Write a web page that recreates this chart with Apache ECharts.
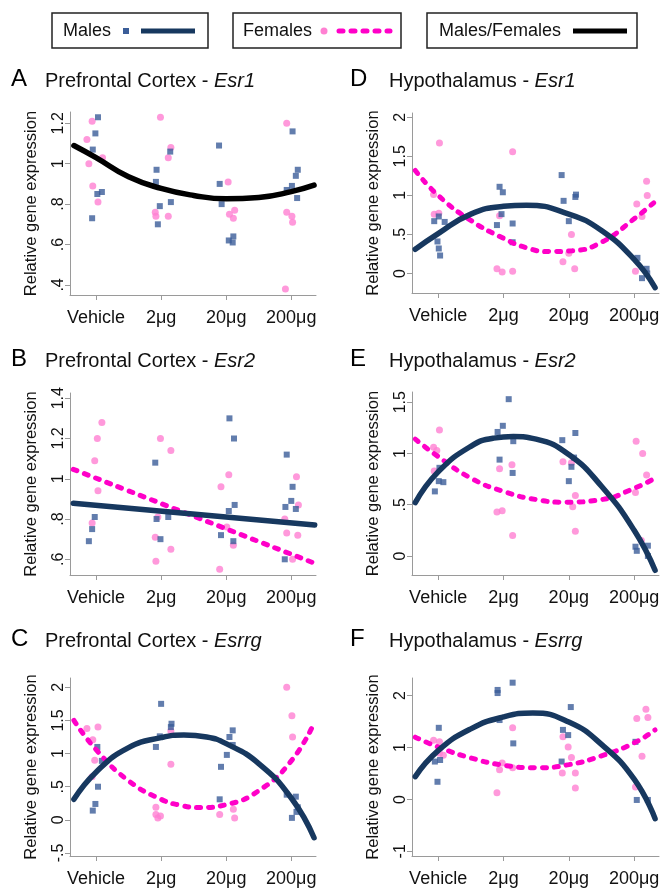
<!DOCTYPE html>
<html>
<head>
<meta charset="utf-8">
<script src="https://cdn.jsdelivr.net/npm/echarts@6/dist/echarts.min.js"></script>
<style>
  html, body { margin: 0; padding: 0; background: #fff; }
  #chart { width: 668px; height: 888px; }
</style>
</head>
<body>
<div id="chart"></div>
<script>
// dose groups on the x axis
const doseTicks = [1, 2, 3, 4];
const doseLabels = ['Vehicle', '2μg', '20μg', '200μg'];

// y tick values per panel
const aTicks = [0.4, 0.6, 0.8, 1, 1.2];
const bTicks = [0.6, 0.8, 1, 1.2, 1.4];
const cTicks = [-0.5, 0, 0.5, 1, 1.5, 2];
const dTicks = [0, 0.5, 1, 1.5, 2];
const eTicks = [0, 0.5, 1, 1.5];
const fTicks = [-1, 0, 1, 2];

// A  Prefrontal Cortex - Esr1
const aMales = [[1.03,1.23],[0.99,1.15],[0.95,1.07],[1.09,0.86],[1.02,0.85],[0.94,0.73],[1.93,0.97],[1.92,0.91],[1.98,0.79],[2.15,0.81],[2.14,1.06],[1.95,0.70],[2.89,1.09],[2.90,0.90],[2.93,0.80],[3.04,0.62],[3.10,0.61],[3.11,0.64],[4.02,1.16],[4.10,0.97],[4.07,0.94],[4.01,0.89],[3.93,0.87],[4.09,0.83]];
const aFemales = [[0.86,1.12],[0.94,1.21],[0.89,1.00],[1.10,1.03],[0.95,0.89],[1.03,0.81],[1.99,1.23],[2.15,1.08],[2.11,1.03],[1.91,0.76],[1.92,0.74],[2.11,0.74],[3.03,0.91],[3.05,0.75],[3.11,0.73],[3.13,0.77],[3.93,1.20],[3.93,0.76],[4.01,0.74],[4.02,0.71],[3.91,0.38]];
const aFitAll = [[0.66,1.09],[1,1.03],[1.5,0.935],[2,0.878],[2.5,0.843],[3,0.826],[3.5,0.833],[4,0.862],[4.35,0.894]];

// B  Prefrontal Cortex - Esr2
const bMales = [[0.98,0.81],[0.94,0.75],[0.89,0.69],[1.91,1.08],[1.93,0.80],[1.99,0.70],[2.11,0.81],[3.05,1.30],[3.12,1.20],[3.13,0.87],[3.04,0.84],[2.92,0.72],[3.11,0.69],[3.93,1.12],[4.02,0.96],[4.00,0.89],[3.91,0.86],[4.07,0.85],[3.90,0.60]];
const bFemales = [[1.09,1.28],[1.02,1.20],[0.98,1.09],[1.03,0.94],[0.94,0.78],[1.99,1.20],[2.15,1.14],[1.95,0.81],[1.91,0.71],[2.15,0.65],[1.92,0.59],[2.92,0.96],[3.04,1.02],[3.01,0.76],[3.11,0.67],[2.90,0.55],[4.08,1.01],[4.11,0.87],[4.10,0.72],[3.93,0.73],[3.90,0.80],[4.02,0.60]];
const bFitMales = [[0.65,0.878],[4.36,0.770]];
const bFitFemales = [[0.65,1.047],[4.36,0.58]];

// C  Prefrontal Cortex - Esrrg
const cMales = [[1.02,1.10],[1.09,0.89],[1.03,0.50],[0.99,0.24],[0.95,0.14],[2.00,1.75],[2.16,1.45],[2.15,1.40],[1.98,1.26],[1.92,1.10],[3.10,1.35],[3.05,1.25],[3.10,1.13],[3.01,0.98],[2.92,0.80],[2.90,0.31],[3.93,0.38],[4.07,0.35],[4.10,0.19],[4.08,0.12],[4.01,0.03]];
const cFemales = [[0.86,1.38],[0.95,1.21],[1.03,1.40],[0.98,0.90],[0.94,0.65],[2.15,1.34],[2.15,0.84],[1.92,0.19],[1.92,0.08],[1.95,0.03],[1.99,0.06],[2.90,0.08],[3.11,0.16],[3.13,0.03],[3.93,2.00],[4.01,1.57],[4.02,1.25]];
const cFitMales = [[0.66,0.31],[1,0.72],[1.5,1.09],[2,1.24],[2.35,1.28],[2.7,1.25],[3,1.15],[3.5,0.85],[4,0.33],[4.35,-0.27]];
const cFitFemales = [[0.66,1.50],[1,1.06],[1.5,0.59],[2,0.31],[2.3,0.22],[2.6,0.185],[3,0.23],[3.5,0.44],[4,0.89],[4.35,1.46]];

// D  Hypothalamus - Esr1
const dMales = [[0.94,0.67],[1.01,0.73],[1.10,0.66],[0.99,0.41],[1.01,0.32],[1.03,0.23],[1.94,1.11],[1.99,1.04],[1.97,0.76],[1.90,0.62],[2.14,0.64],[2.14,0.40],[2.89,1.26],[2.92,0.93],[3.10,0.98],[3.11,1.01],[3.00,0.67],[4.05,0.20],[4.12,-0.06],[4.19,0.06],[4.20,0.00]];
const dFemales = [[1.02,1.67],[0.93,1.01],[0.94,0.76],[1.01,0.77],[2.14,1.56],[1.94,0.74],[1.90,0.06],[1.98,0.02],[2.14,0.03],[2.91,0.15],[3.04,0.50],[3.09,0.06],[3.00,0.26],[4.04,0.89],[4.19,1.18],[4.20,1.00],[4.12,0.73],[4.02,0.03]];
const dFitMales = [[0.65,0.31],[1,0.51],[1.5,0.76],[2,0.86],[2.35,0.875],[3,0.76],[3.5,0.55],[4,0.18],[4.32,-0.18]];
const dFitFemales = [[0.65,1.32],[1,1.00],[1.5,0.68],[2,0.45],[2.35,0.33],[2.7,0.28],[3.05,0.29],[3.5,0.40],[4,0.70],[4.32,0.92]];

// E  Hypothalamus - Esr2
const eMales = [[1.02,0.86],[1.01,0.73],[1.08,0.72],[0.95,0.63],[2.08,1.53],[1.99,1.27],[1.91,1.21],[2.15,1.12],[1.94,0.94],[2.14,0.81],[2.90,1.13],[3.10,1.20],[3.08,0.96],[3.04,0.87],[3.00,0.73],[4.02,0.09],[4.04,0.05],[4.21,0.00],[4.21,0.10]];
const eFemales = [[1.02,1.23],[0.93,1.06],[0.98,1.03],[0.94,0.83],[1.94,0.85],[2.13,0.89],[1.90,0.43],[1.98,0.44],[2.14,0.20],[2.91,0.92],[3.04,0.91],[3.10,0.59],[3.06,0.48],[3.10,0.24],[4.03,1.12],[4.13,1.00],[4.19,0.79],[4.02,0.62],[4.11,0.15]];
const eFitMales = [[0.65,0.52],[1,0.82],[1.5,1.07],[1.85,1.15],[2.15,1.165],[2.5,1.14],[3,0.99],[3.5,0.68],[4,0.25],[4.32,-0.14]];
const eFitFemales = [[0.65,1.14],[1,0.97],[1.5,0.76],[2,0.63],[2.5,0.55],[2.95,0.525],[3.5,0.55],[4,0.66],[4.32,0.76]];

// F  Hypothalamus - Esrrg
const fMales = [[1.01,1.38],[0.95,0.73],[1.03,0.76],[0.99,0.34],[2.14,2.25],[1.91,2.11],[1.91,2.05],[1.94,1.53],[2.15,1.08],[3.03,1.78],[2.91,1.34],[2.99,1.24],[2.89,0.73],[4.02,1.11],[4.04,-0.01],[4.21,-0.01]];
const fFemales = [[0.93,1.14],[1.02,1.11],[1.02,0.89],[1.08,0.85],[2.14,1.38],[1.98,0.70],[1.94,0.57],[1.90,0.13],[2.14,0.61],[2.91,1.21],[2.99,1.01],[3.04,0.81],[3.10,0.51],[2.90,0.51],[3.10,0.22],[4.18,1.74],[4.21,1.58],[4.04,1.56],[4.12,0.83],[4.02,0.24]];
const fFitMales = [[0.65,0.44],[1,0.94],[1.5,1.36],[2,1.59],[2.45,1.665],[3,1.49],[3.5,1.06],[4,0.39],[4.32,-0.37]];
const fFitFemales = [[0.65,1.20],[1,1.01],[1.5,0.80],[2,0.66],[2.5,0.61],[3,0.67],[3.5,0.84],[4,1.09],[4.32,1.34]];

const FONT = 'Liberation Sans, Arial, Helvetica, sans-serif';
const MALE_DOT = '#3b5d98';
const MALE_LINE = '#17385f';
const FEMALE_DOT = '#ff80d2';
const FEMALE_LINE = '#ff00c8';
const AXIS_GRAY = '#9a9a9a';

const panels = [
  { letter: 'A', region: 'Prefrontal Cortex - ', gene: 'Esr1', grid: { left: 70, top: 112, width: 246, height: 183 }, yMin: 0.35, yMax: 1.256, ticks: aTicks, males: aMales, females: aFemales, fitAll: aFitAll, titleY: 80, lx: 11, tx: 45 },
  { letter: 'B', region: 'Prefrontal Cortex - ', gene: 'Esr2', grid: { left: 70, top: 393, width: 246, height: 182 }, yMin: 0.522, yMax: 1.426, ticks: bTicks, males: bMales, females: bFemales, fitM: bFitMales, fitF: bFitFemales, titleY: 360, lx: 11, tx: 45 },
  { letter: 'C', region: 'Prefrontal Cortex - ', gene: 'Esrrg', grid: { left: 70, top: 678, width: 246, height: 180 }, yMin: -0.545, yMax: 2.14, ticks: cTicks, males: cMales, females: cFemales, fitM: cFitMales, fitF: cFitFemales, titleY: 640, lx: 11, tx: 45 },
  { letter: 'D', region: 'Hypothalamus - ', gene: 'Esr1', grid: { left: 412, top: 113, width: 247, height: 180 }, yMin: -0.25, yMax: 2.055, ticks: dTicks, males: dMales, females: dFemales, fitM: dFitMales, fitF: dFitFemales, titleY: 80, lx: 350, tx: 389 },
  { letter: 'E', region: 'Hypothalamus - ', gene: 'Esr2', grid: { left: 412, top: 392, width: 247, height: 183 }, yMin: -0.186, yMax: 1.60, ticks: eTicks, males: eMales, females: eFemales, fitM: eFitMales, fitF: eFitFemales, titleY: 360, lx: 350, tx: 389 },
  { letter: 'F', region: 'Hypothalamus - ', gene: 'Esrrg', grid: { left: 412, top: 678, width: 247, height: 180 }, yMin: -1.09, yMax: 2.34, ticks: fTicks, males: fMales, females: fFemales, fitM: fFitMales, fitF: fFitFemales, titleY: 640, lx: 350, tx: 389 }
];

function yLabel(v) {
  return String(v).replace('0.', '.');
}

const grids = [], xAxes = [], yAxes = [], series = [], graphics = [];

panels.forEach((p, i) => {
  grids.push(p.grid);
  xAxes.push({
    type: 'value', gridIndex: i, min: 0.6, max: 4.38,
    axisLine: { onZero: false, lineStyle: { color: AXIS_GRAY, width: 1 } },
    axisTick: { customValues: doseTicks, length: 5, lineStyle: { color: AXIS_GRAY } },
    axisLabel: { customValues: doseTicks, margin: 14, color: '#111', fontSize: 18, fontFamily: FONT,
      formatter: v => doseLabels[doseTicks.indexOf(v)] },
    splitLine: { show: false }
  });
  yAxes.push({
    type: 'value', gridIndex: i, min: p.yMin, max: p.yMax,
    name: 'Relative gene expression', nameLocation: 'middle', nameGap: 30,
    nameTextStyle: { color: '#111', fontSize: 16.5, fontFamily: FONT },
    axisLine: { show: true, lineStyle: { color: AXIS_GRAY, width: 1 } },
    axisTick: { show: true, customValues: p.ticks, length: 5, lineStyle: { color: AXIS_GRAY } },
    axisLabel: { customValues: p.ticks, rotate: 90, margin: 3, color: '#111', fontSize: 16, fontFamily: FONT,
      formatter: yLabel },
    splitLine: { show: false }
  });

  series.push({
    type: 'scatter', xAxisIndex: i, yAxisIndex: i, data: p.females, z: 2,
    symbol: 'circle', symbolSize: 7, itemStyle: { color: FEMALE_DOT }
  });
  series.push({
    type: 'scatter', xAxisIndex: i, yAxisIndex: i, data: p.males, z: 2,
    symbol: 'rect', symbolSize: 6, itemStyle: { color: MALE_DOT }
  });
  if (p.fitAll) {
    series.push({
      type: 'line', xAxisIndex: i, yAxisIndex: i, data: p.fitAll, z: 3, smooth: 0.5,
      showSymbol: false, lineStyle: { color: '#000', width: 5.5, cap: 'round' }
    });
  } else {
    series.push({
      type: 'line', xAxisIndex: i, yAxisIndex: i, data: p.fitF, z: 3, smooth: 0.5,
      showSymbol: false, lineStyle: { color: FEMALE_LINE, width: 5, type: [4, 8], cap: 'round' }
    });
    series.push({
      type: 'line', xAxisIndex: i, yAxisIndex: i, data: p.fitM, z: 4, smooth: 0.5,
      showSymbol: false, lineStyle: { color: MALE_LINE, width: 5.5, cap: 'round' }
    });
  }

  graphics.push({
    type: 'text', x: p.lx, y: p.titleY - 1,
    style: { text: p.letter, font: '24px ' + FONT, fill: '#000', verticalAlign: 'middle' }
  });
  graphics.push({
    type: 'text', x: p.tx, y: p.titleY + 1,
    style: {
      text: '{t|' + p.region + '}{i|' + p.gene + '}', verticalAlign: 'middle', fill: '#111',
      rich: {
        t: { fontSize: 20, fontFamily: FONT, fill: '#111' },
        i: { fontSize: 20, fontFamily: FONT, fontStyle: 'italic', fill: '#111' }
      }
    }
  });
});

// legend boxes
const legendY = 31;
[[52, 156], [233, 168], [427, 210]].forEach(b => {
  graphics.push({ type: 'rect', shape: { x: b[0], y: 13, width: b[1], height: 35 },
    style: { fill: '#fff', stroke: '#222', lineWidth: 1.5 } });
});
graphics.push({ type: 'text', x: 63, y: legendY, style: { text: 'Males', font: '18px ' + FONT, fill: '#111', verticalAlign: 'middle' } });
graphics.push({ type: 'rect', shape: { x: 123, y: legendY - 3, width: 6, height: 6 }, style: { fill: MALE_DOT } });
graphics.push({ type: 'line', shape: { x1: 141, y1: legendY, x2: 195, y2: legendY }, style: { stroke: MALE_LINE, lineWidth: 5 } });
graphics.push({ type: 'text', x: 243, y: legendY, style: { text: 'Females', font: '18px ' + FONT, fill: '#111', verticalAlign: 'middle' } });
graphics.push({ type: 'circle', shape: { cx: 324, cy: legendY, r: 3.5 }, style: { fill: FEMALE_DOT } });
graphics.push({ type: 'line', shape: { x1: 339, y1: legendY, x2: 390, y2: legendY }, style: { stroke: FEMALE_LINE, lineWidth: 5, lineDash: [4, 8], lineCap: 'round' } });
graphics.push({ type: 'text', x: 439, y: legendY, style: { text: 'Males/Females', font: '18px ' + FONT, fill: '#111', verticalAlign: 'middle' } });
graphics.push({ type: 'line', shape: { x1: 573, y1: legendY, x2: 627, y2: legendY }, style: { stroke: '#000', lineWidth: 5 } });

const chart = echarts.init(document.getElementById('chart'), null, { renderer: 'canvas' });
chart.setOption({
  animation: false,
  backgroundColor: '#fff',
  grid: grids,
  xAxis: xAxes,
  yAxis: yAxes,
  series: series,
  graphic: graphics
});
</script>
</body>
</html>
